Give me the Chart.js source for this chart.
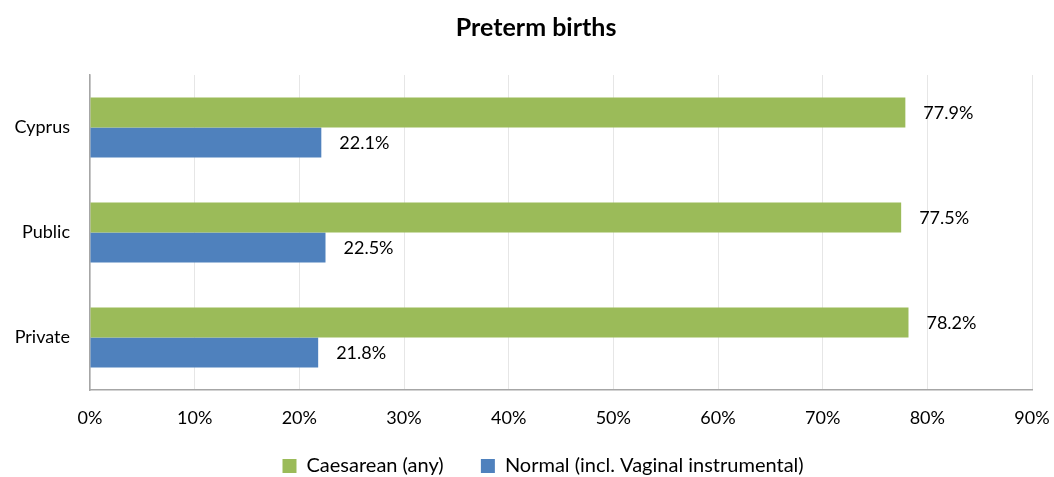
<!DOCTYPE html>
<html>
<head>
<meta charset="utf-8">
<script src="https://cdn.jsdelivr.net/npm/chart.js@4/dist/chart.umd.min.js"></script>
<style>
  html, body { margin: 0; padding: 0; background: #fff; }
  #wrap { width: 1054px; height: 477px; }
</style>
</head>
<body>
<div id="wrap"><canvas id="chartPreterm"></canvas></div>
<script>
'use strict';
var categories = ['Cyprus', 'Public', 'Private'];
var caesarean = [77.9, 77.5, 78.2];
var normal = [22.1, 22.5, 21.8];
var xTicks = [0, 10, 20, 30, 40, 50, 60, 70, 80, 90];

var FONT = 'Lato, "Open Sans", sans-serif';

// draw the % value right of every bar
var valueLabels = {
    id: 'valueLabels',
    afterDatasetsDraw: function(chart){
        var ctx = chart.ctx;
        ctx.save();
        ctx.font = '18px ' + FONT;
        ctx.fillStyle = '#000';
        ctx.textBaseline = 'middle';
        ctx.textAlign = 'left';
        chart.data.datasets.forEach(function(ds, i){
            chart.getDatasetMeta(i).data.forEach(function(bar, j){
                ctx.fillText(ds.data[j].toFixed(1) + '%', bar.x + 18, bar.y + 1);
            });
        });
        ctx.restore();
    }
};

var $ctx = document.getElementById('chartPreterm').getContext('2d');
var chartPreterm = new Chart($ctx, {
    type: 'bar',
    plugins: [valueLabels],
    data: {
        labels: categories,
        datasets: [
            {
                label: 'Caesarean (any)',
                backgroundColor: '#9BBB59',
                data: caesarean
            },
            {
                label: 'Normal (incl. Vaginal instrumental)',
                backgroundColor: '#4F81BD',
                data: normal
            }
        ]
    },
    options: {
        indexAxis: 'y',
        responsive: true,
        maintainAspectRatio: false,
        animation: false,
        layout: { padding: 0 },
        datasets: {
            bar: { categoryPercentage: 0.57, barPercentage: 1.0 }
        },
        scales: {
            x: {
                min: 0,
                max: 90,
                afterBuildTicks: function(scale){
                    scale.ticks = xTicks.map(function(v){ return { value: v }; });
                },
                afterFit: function(scale){
                    scale.paddingLeft = 0;
                    scale.paddingRight = 22;
                    scale.height = 39;
                },
                grid: { color: '#e6e6e6', drawTicks: false },
                border: { color: '#a6a6a6', width: 1.5 },
                ticks: {
                    color: '#000',
                    padding: 17,
                    font: { family: FONT, size: 18 },
                    callback: function(v){ return v + '%'; }
                }
            },
            y: {
                grid: { display: false, drawTicks: false },
                border: { color: '#a6a6a6', width: 1.5 },
                ticks: {
                    color: '#000',
                    padding: 20,
                    font: { family: FONT, size: 18 }
                },
                afterFit: function(scale){
                    scale.width = 90;
                    scale.paddingTop = 0;
                    scale.paddingBottom = 0;
                }
            }
        },
        plugins: {
            title: {
                display: true,
                text: '   Preterm births',
                color: '#000',
                font: { family: FONT, size: 25, weight: 'bold' },
                padding: { top: 13, bottom: 32 }
            },
            legend: {
                position: 'bottom',
                fullSize: false,
                maxHeight: 48,
                labels: {
                    color: '#000',
                    boxWidth: 14,
                    boxHeight: 14,
                    padding: 27,
                    font: { family: FONT, size: 20 },
                    generateLabels: function(chart){
                        var items = Chart.defaults.plugins.legend.labels.generateLabels(chart);
                        items[0].text = items[0].text + '  ';
                        items[1].text = items[1].text + '       ';
                        return items;
                    }
                }
            },
            tooltip: { enabled: false }
        }
    }
});
</script>
</body>
</html>
